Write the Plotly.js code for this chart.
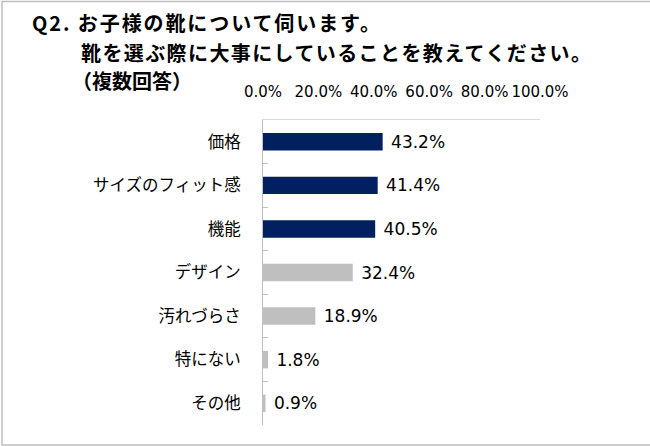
<!DOCTYPE html>
<html>
<head>
<meta charset="utf-8">
<script src="https://cdn.plot.ly/plotly-3.0.1.min.js"></script>
<style>
html,body{margin:0;padding:0;background:#fff;}
#chart{width:650px;height:446px;}
</style>
</head>
<body>
<div id="chart"></div>
<script>
var categories = ["価格", "サイズのフィット感", "機能", "デザイン", "汚れづらさ", "特にない", "その他"];
var values = [43.2, 41.4, 40.5, 32.4, 18.9, 1.8, 0.9];
var highlightCount = 3;
var tickValues = [0, 20, 40, 60, 80, 100];
var tickLabels = ["0.0%", "20.0%", "40.0%", "60.0%", "80.0%", "100.0%"];

var titleLine1 = "Q2. お子様の靴について伺います。";
var titleLine2 = "靴を選ぶ際に大事にしていることを教えてください。";
var titleLine3 = "（複数回答）";

var NAVY = "#002060", GRAY = "#bfbfbf";
var barColors = values.map(function(v, i){ return i < highlightCount ? NAVY : GRAY; });

var FONT = "'DejaVu Sans', 'Noto Sans CJK JP', sans-serif";
var JFONT = "'Noto Sans CJK JP', sans-serif";

var trace = {
  type: "bar",
  orientation: "h",
  y: categories,
  x: values,
  marker: {color: barColors, line: {width: 0}},
  text: values.map(function(v){ return "\u00a0" + v.toFixed(1) + "%"; }),
  textposition: "outside",
  constraintext: "none",
  cliponaxis: false,
  textfont: {family: FONT, size: 17, color: "#000"},
  hoverinfo: "skip"
};

function py(p){ return (425 - p) / 305; }
function px(p){ return (p - 263) / 277; }

var layout = {
  width: 650, height: 446,
  margin: {l: 263, r: 110, t: 120, b: 21, pad: 0},
  paper_bgcolor: "#fff", plot_bgcolor: "#fff",
  showlegend: false,
  bargap: 0.6,
  title: {
    text: "<b><span style=\"letter-spacing:1.9px\">" + titleLine1 + "</span></b>",
    font: {family: JFONT, size: 20, color: "#000"},
    xref: "container", x: 32/650, xanchor: "left",
    yref: "container", y: 1 - 24/446, yanchor: "middle"
  },
  xaxis: {
    side: "top",
    range: [0, 100],
    tickvals: tickValues,
    ticktext: tickLabels,
    showgrid: false,
    zeroline: false,
    showline: true,
    linecolor: "#d9d9d9",
    linewidth: 1,
    ticks: "",
    ticklabelstandoff: 16,
    tickfont: {family: FONT, size: 15, color: "#000"},
    fixedrange: true
  },
  yaxis: {
    type: "category",
    autorange: "reversed",
    showgrid: false,
    zeroline: false,
    showline: true,
    linecolor: "#bfbfbf",
    linewidth: 1,
    ticks: "inside",
    tickson: "boundaries",
    ticklen: 5,
    tickcolor: "#bfbfbf",
    ticklabelstandoff: 18,
    tickfont: {family: JFONT, size: 16.5, color: "#000"},
    fixedrange: true
  },
  annotations: [
    {text: "<b><span style=\"letter-spacing:1.4px\">" + titleLine2 + "</span></b>", xref: "paper", yref: "paper",
     x: px(79), y: py(52), xanchor: "left", yanchor: "middle",
     showarrow: false, font: {family: JFONT, size: 20, color: "#000"}},
    {text: "<b>" + titleLine3 + "</b>", xref: "paper", yref: "paper",
     x: px(70), y: py(80), xanchor: "left", yanchor: "middle",
     showarrow: false, font: {family: JFONT, size: 20, color: "#000"}}
  ],
  shapes: [
    {type: "rect", xref: "paper", yref: "paper",
     x0: px(2), x1: px(662),
     y0: py(445), y1: py(1.5),
     line: {color: "#bfbfbf", width: 1.5}, fillcolor: "rgba(0,0,0,0)", layer: "below"}
  ]
};

Plotly.newPlot("chart", [trace], layout, {displayModeBar: false, staticPlot: true});
</script>
</body>
</html>
